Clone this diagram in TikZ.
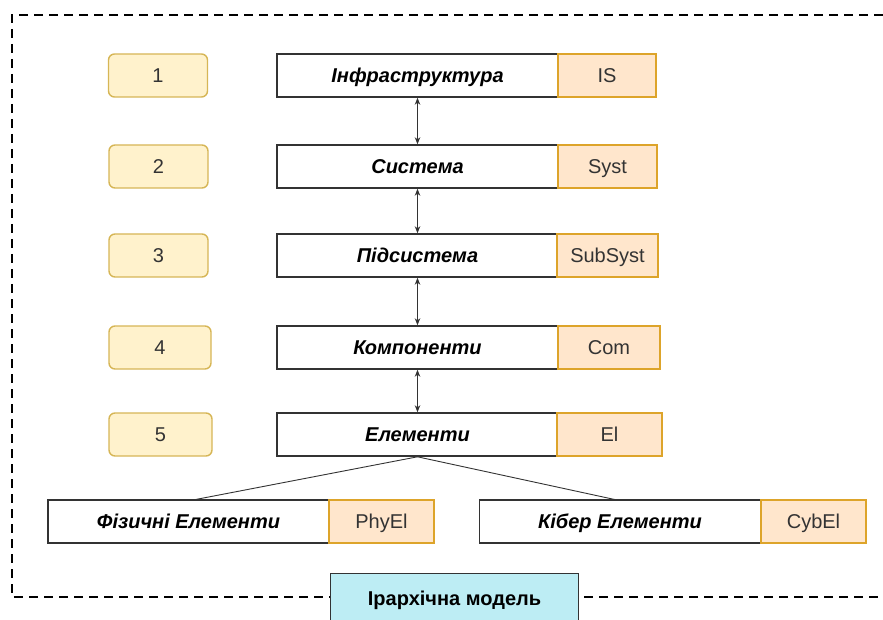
\documentclass[tikz,border=0pt]{standalone}
\usepackage{fontspec}
\setmainfont{Liberation Sans}
\usetikzlibrary{arrows.meta}
\definecolor{numfill}{HTML}{FFF2CC}
\definecolor{numdraw}{HTML}{D6B656}
\definecolor{tagfill}{HTML}{FFE6CC}
\definecolor{tagdraw}{HTML}{DDA42A}
\definecolor{labfill}{HTML}{BDEDF4}
\definecolor{darkline}{HTML}{333333}
\begin{document}
\begin{tikzpicture}[x=1pt,y=-1pt,
  every node/.style={text height=14.3pt,text depth=0pt},
  numbox/.style={draw=numdraw,fill=numfill,line width=1.4pt,rounded corners=6pt,minimum width=99pt,minimum height=43pt,inner sep=0pt,font=\fontsize{20}{22}\selectfont,text=darkline},
  mainbox/.style={draw=darkline,fill=white,line width=1.6pt,minimum width=281pt,minimum height=43pt,inner sep=0pt,font=\fontsize{20}{22}\selectfont\bfseries\itshape},
  tagbox/.style={draw=tagdraw,fill=tagfill,line width=1.6pt,minimum height=43pt,inner sep=0pt,font=\fontsize{20}{22}\selectfont,text=darkline},
  link/.style={draw=darkline,line width=0.8pt,{Stealth[length=7pt,width=5.5pt]}-{Stealth[length=7pt,width=5.5pt]}},
  tree/.style={draw=darkline,line width=0.9pt}]
\useasboundingbox (0,0) rectangle (883,620);
\draw[line width=2pt,dash pattern=on 9pt off 6pt] (883,15) -- (12,15) -- (12,597) -- (883,597);
% number boxes
\node[numbox] (n1) at (158,75.5) {1};
\node[numbox] (n2) at (158.5,166.5) {2};
\node[numbox] (n3) at (158.5,255.5) {3};
\node[numbox,minimum width=102pt] (n4) at (160,347.5) {4};
\node[numbox,minimum width=103pt] (n5) at (160.5,434.5) {5};
% main boxes
\node[mainbox] (m1) at (417.5,75.5) {Інфраструктура};
\node[mainbox] (m2) at (417.5,166.5) {Система};
\node[mainbox] (m3) at (417.5,255.5) {Підсистема};
\node[mainbox] (m4) at (417.5,347.5) {Компоненти};
\node[mainbox] (m5) at (417.5,434.5) {Елементи};
% tags
\node[tagbox,minimum width=98pt] (t1) at (607,75.5) {IS};
\node[tagbox,minimum width=99pt] (t2) at (607.5,166.5) {Syst};
\node[tagbox,minimum width=101pt] (t3) at (607.5,255.5) {SubSyst};
\node[tagbox,minimum width=102pt] (t4) at (609,347.5) {Com};
\node[tagbox,minimum width=105pt] (t5) at (609.5,434.5) {El};
% bottom boxes
\node[mainbox] (p) at (188.5,521.5) {Фізичні Елементи};
\node[tagbox,minimum width=105pt] (pt) at (381.5,521.5) {PhyEl};
\node[mainbox] (c) at (620,521.5) {Кібер Елементи};
\node[tagbox,minimum width=105pt] (ct) at (813.5,521.5) {CybEl};
% arrows
\draw[link] (m1.south) -- (m2.north);
\draw[link] (m2.south) -- (m3.north);
\draw[link] (m3.south) -- (m4.north);
\draw[link] (m4.south) -- (m5.north);
\coordinate (pj) at (193,500);
\coordinate (cj) at (617,500);
\draw[tree] (m5.south) -- (pj);
\draw[tree] (m5.south) -- (cj);
% title
\node[draw=darkline,fill=labfill,line width=1pt,minimum width=248pt,minimum height=49pt,inner sep=0pt,font=\fontsize{20}{22}\selectfont\bfseries,anchor=north west] (lab) at (330,573) {Ірархічна модель};
\end{tikzpicture}
\end{document}
